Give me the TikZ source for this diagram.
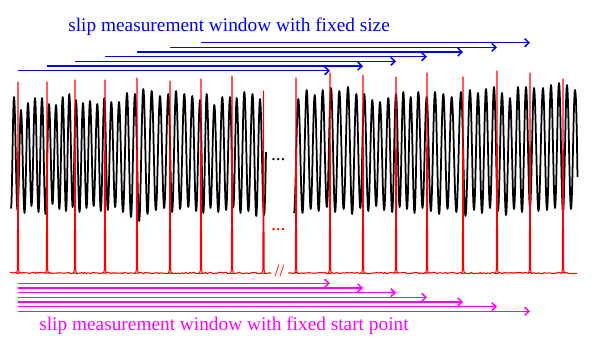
\documentclass[tikz,border=0pt]{standalone}
\usepackage{fontspec}
\setmainfont{Liberation Serif}
\usetikzlibrary{arrows.meta}
\definecolor{fixblue}{RGB}{0,0,255}
\definecolor{fixmagenta}{RGB}{255,0,255}
\definecolor{pulsered}{RGB}{255,0,0}

\begin{document}
\begin{tikzpicture}[
    x=0.02cm, y=-0.02cm,
    wave/.style = {line width=1pt, black, line join=round},
    pulse/.style = {line width=0.6pt, pulsered, line join=round},
    fixsize/.style = {-{Straight Barb[length=2.4pt,width=4.6pt]}, line width=0.85pt, fixblue},
    fixstart/.style = {-{Straight Barb[length=2.4pt,width=4.6pt]}, line width=0.85pt, fixmagenta},
    wintext/.style = {inner sep=0pt, anchor=base west, font=\fontsize{11}{13}\selectfont},
    gaptext/.style = {inner sep=0pt, font=\fontsize{11}{13}\selectfont}
  ]
  \path[use as bounding box, fill=white] (0,0) rectangle (599,343);
  \pgfmathsetseed{17}

  % optical signal, left part
  \draw[wave] (11,208) foreach \px/\py/\ty [remember=\px as \lx (initially 8)] in
    {14/97/208, 21/110/210, 28/103/213, 35/98/206, 42/98/212, 49/104/214,
     56/105/204, 62.7/97/209, 69.3/94/211, 76/100/207, 83/103/212, 90/101/208,
     97.3/104/206, 104.3/98/211, 111.3/102/210, 119/102/207, 127/93/212,
     135/94/217, 143.3/89/221, 151.7/91/214, 160/96/210, 168.3/94/208,
     176/91/212, 184.3/94/209, 192.3/96/207, 200/100/211, 206.7/94/213,
     214.3/105/208, 222.3/97/212, 230/97/210, 236.7/98/207, 244.3/92/213,
     252.5/94/211, 260/99/216}
    { .. controls +({0.1817*(\px-\lx)},0) and +({-0.1817*(\px-\lx)},0) .. ({(\lx+\px)/2},\ty)
      .. controls +({0.1817*(\px-\lx)},0) and +({-0.1817*(\px-\lx)},0) .. (\px,\py) }
    .. controls +(1.45,0) and +(-1.45,0) .. (264,215)
    .. controls +(1,0) and +(-0.4,20) .. (266,152);

  % optical signal, right part
  \draw[wave] (294,213) foreach \px/\py/\ty [remember=\px as \lx (initially 289.7)] in
    {298.3/99/213, 306.7/90/213, 314.7/95/209, 322.7/90/211, 331/88/207,
     339.3/91/212, 348/87/209, 356.3/94/214, 364.3/94/208, 372.3/100/211,
     380/102/206, 388.3/98/210, 396/94/212, 403.3/92/207, 410.7/97/209,
     418.3/92/213, 426.7/97/208, 435/92/211, 443.3/94/214, 451.7/97/209,
     461/92/212, 470/90/216, 478/93/210, 486/89/213, 494/87/208, 502/93/211,
     510/98/215, 518/87/209, 526/87/212, 534/88/207, 543/88/211, 551/85/210,
     559/83/208, 567/85/212, 575/90/209}
    { .. controls +({0.1817*(\px-\lx)},0) and +({-0.1817*(\px-\lx)},0) .. ({(\lx+\px)/2},\ty)
      .. controls +({0.1817*(\px-\lx)},0) and +({-0.1817*(\px-\lx)},0) .. (\px,\py) }
    .. controls +(1.5,0) and +(-0.4,-20) .. (577.5,177);

  % reference pulses
  \draw[pulse] plot[domain=10:271, samples=175] (\x,{273+0.7*rand});
  \draw[pulse] plot[domain=288:577, samples=195] (\x,{273+0.7*rand});
  \foreach \x/\t [count=\i] in {18/82, 47/82, 75/80, 105/80, 137/78, 170/81,
      201/79, 232/76, 263.5/91, 296/78, 330/73, 363/75, 396/77, 427/73,
      463/77, 497/71, 530/73, 563/79} {
    \coordinate (s\i) at (\x,273);
    \draw[pulse] (\x-1.6,273.5) -- (\x-0.6,270) -- (\x,\t) -- (\x+0.6,270) -- (\x+1.6,273.5);
  }

  % gap marks
  \node[gaptext] (wavedots) at (278.3,160) {...};
  \node[gaptext, pulsered] (pulsedots) at (278.3,230) {...};
  \node[gaptext, pulsered, font=\fontsize{10}{11}\selectfont] (cut) at (279.5,271) {//};

  % measurement windows
  \foreach \i in {1,...,7} {
    \pgfmathtruncatemacro\j{\i+10}
    \coordinate (fsrow\i) at (0,{75.4-4.67*\i});
    \draw[fixsize] (s\i |- fsrow\i) -- (s\j |- fsrow\i);
    \coordinate (sprow\i) at (0,{278.6+4.67*\i});
    \draw[fixstart] (s1 |- sprow\i) -- (s\j |- sprow\i);
  }

  \node[wintext, fixblue] (fslabel) at (68,31.7) {slip measurement window with fixed size};
  \node[wintext, fixmagenta] (splabel) at (39,330) {slip measurement window with fixed start point};
\end{tikzpicture}
\end{document}
